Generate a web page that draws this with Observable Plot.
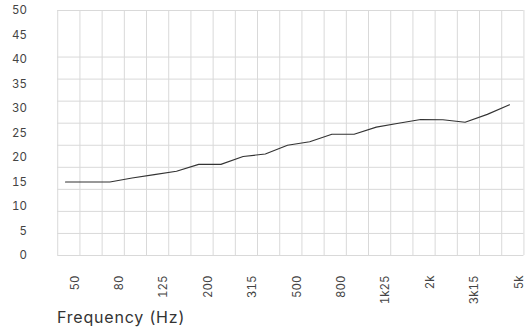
<!DOCTYPE html>
<html>
<head>
<meta charset="utf-8">
<script src="https://cdn.jsdelivr.net/npm/d3@7"></script>
<script src="https://cdn.jsdelivr.net/npm/@observablehq/plot@0.6"></script>
<style>
  body { margin: 0; background: #fff; font-family: Inter, "Open Sans", sans-serif; }
  #wrap { position: relative; width: 525px; height: 333px; }
  #xtitle { position: absolute; left: 57px; top: 307px; font-size: 16px; letter-spacing: 0.8px; line-height: 20px; color: #333; }
</style>
</head>
<body>
<div id="wrap">
  <div id="chart"></div>
  <div id="xtitle">Frequency (Hz)</div>
</div>
<script>
// Third-octave band centre frequencies (labels as shown)
const bands = ["50","63","80","100","125","160","200","250","315","400","500","630","800","1k","1k25","1k6","2k","2k5","3k15","4k","5k"];
// Values
const values = [15.0, 15.0, 15.0, 15.8, 16.5, 17.2, 18.6, 18.6, 20.2, 20.7, 22.5, 23.2, 24.75, 24.75, 26.2, 27.0, 27.75, 27.7, 27.2, 28.8, 30.75];
const yTicks = [0, 5, 10, 15, 20, 25, 30, 35, 40, 45, 50];
// labelled bands: every other one
const xTickIdx = d3.range(0, bands.length, 2);

const data = bands.map((b, i) => ({i, band: b, value: values[i]}));

// background square grid (decorative, not aligned with the ticks)
const gridX = d3.range(0, bands.length + 1).map(k => k - 0.35);
const gridY = [...d3.range(0, 10).map(k => k * 4.5), 50];

const chart = Plot.plot({
  width: 525,
  height: 333,
  marginLeft: 65,
  marginRight: 16,
  marginTop: 10,
  marginBottom: 78,
  style: {fontFamily: "Inter, 'Open Sans', sans-serif", fontSize: "11.5px", color: "#444", background: "#fff"},
  x: {type: "linear", domain: [0, bands.length - 1]},
  y: {domain: [0, 50]},
  marks: [
    Plot.ruleX(gridX, {x: d => d, y1: 0, y2: 50, stroke: "#d9d9d9", strokeWidth: 1}),
    Plot.ruleY(gridY, {y: d => d, x1: gridX[0], x2: gridX[gridX.length - 1], stroke: "#d9d9d9", strokeWidth: 1}),
    Plot.axisY({ticks: yTicks, tickSize: 0, tickPadding: 38.5, label: null, tickFormat: d => String(d)}),
    Plot.axisX({ticks: xTickIdx, tickSize: 0, tickPadding: 20, tickRotate: -90, dx: 9.5, label: null, tickFormat: i => bands[i]}),
    Plot.line(data, {x: "i", y: "value", stroke: "#333", strokeWidth: 1.1})
  ]
});
document.getElementById("chart").appendChild(chart);
</script>
</body>
</html>
